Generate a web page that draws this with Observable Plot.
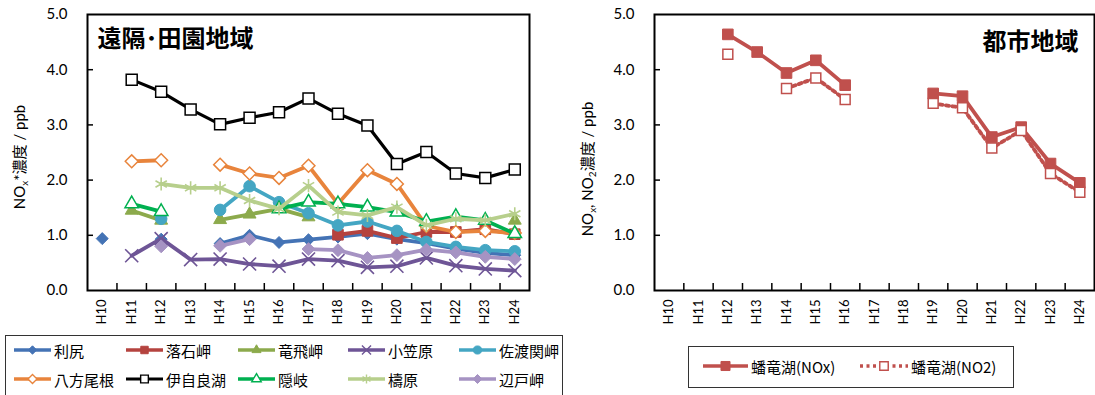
<!DOCTYPE html>
<html><head><meta charset="utf-8">
<script src="https://cdn.jsdelivr.net/npm/d3@7"></script>
<script src="https://cdn.jsdelivr.net/npm/@observablehq/plot@0.6"></script>
<style>
body{margin:0;background:#fff;}
#wrap{position:relative;width:1095px;height:395px;overflow:hidden;background:#fff;font-family:"Noto Sans CJK JP",sans-serif;color:#000;}
#p1,#p2{position:absolute;top:0;}
#p1{left:0;} #p2{left:580px;}
.ylab{position:absolute;white-space:nowrap;font-size:15px;font-family:Lato,"Noto Sans CJK JP",sans-serif;transform:translate(-50%,-50%) rotate(-90deg);line-height:1;}
.ylab sub{font-size:10px;vertical-align:-3px;}
.legbox{position:absolute;border:1px solid #333;box-sizing:border-box;background:#fff;}
.item{position:absolute;display:flex;align-items:center;font-size:15px;white-space:nowrap;line-height:1;}
.item svg{display:block;margin-right:3px;}
</style></head>
<body><div id="wrap">
<div id="p1"></div><div id="p2"></div>
<div class="ylab" style="left:20px;top:157px">NO<sub>x</sub>*濃度 / ppb</div>
<div class="ylab" style="left:588px;top:169px">NO<sub>x</sub>, NO<sub>2</sub>濃度 / ppb</div>
<div class="legbox" id="leg1" style="left:5px;top:335px;width:558px;height:80px"></div>
<div class="legbox" id="leg2" style="left:688px;top:346px;width:326px;height:42px"></div>
</div>
<script>
// ---- data ----
const cats = ["H10","H11","H12","H13","H14","H15","H16","H17","H18","H19","H20","H21","H22","H23","H24"];
const rishiri   = [0.94,null,0.93,null,0.85,1.00,0.87,0.92,0.97,1.03,0.93,0.86,0.76,0.68,0.64];
const ochiishi  = [null,null,null,null,null,null,null,null,1.01,1.08,0.95,1.06,1.06,1.11,1.02];
const tappi     = [null,1.45,1.27,null,1.28,1.38,1.48,1.33,null,null,null,null,null,null,1.27];
const ogasawara = [null,0.63,0.94,0.56,0.57,0.48,0.44,0.57,0.54,0.42,0.44,0.59,0.45,0.39,0.36];
const sado      = [null,null,1.30,null,1.46,1.89,1.60,1.40,1.18,1.25,1.08,0.88,0.79,0.73,0.71];
const happo     = [null,2.34,2.36,null,2.28,2.12,2.04,2.26,1.57,2.18,1.93,1.17,1.06,1.08,1.04];
const ijira     = [null,3.82,3.60,3.28,3.01,3.13,3.23,3.48,3.20,2.99,2.29,2.51,2.12,2.04,2.19];
const oki       = [null,1.57,1.43,null,null,null,1.48,1.60,1.57,1.51,1.42,1.25,1.34,1.27,1.03];
const yusuhara  = [null,null,1.93,1.86,1.86,1.63,1.48,1.90,1.42,1.36,1.51,1.18,1.30,1.27,1.39];
const hedo      = [null,null,0.80,null,0.81,0.93,null,0.75,0.73,0.59,0.64,0.74,0.69,0.61,0.57];
const banryuNOx = [null,null,4.64,4.32,3.94,4.17,3.72,null,null,3.57,3.52,2.78,2.96,2.30,1.95];
const banryuNO2 = [null,null,4.28,null,3.66,3.85,3.46,null,null,3.39,3.31,2.58,2.90,2.12,1.78];
const yTicks = [0,1,2,3,4,5];
const title1 = "遠隔･田園地域";
const title2 = "都市地域";

// ---- styles ----
const leftSeries = [
  {name:"利尻",     vals:rishiri,   color:"#4473B5", symbol:"diamond2", r:5.4, open:false},
  {name:"落石岬",   vals:ochiishi,  color:"#B5433F", symbol:"square",   r:6,   open:false},
  {name:"竜飛岬",   vals:tappi,     color:"#8CAA4C", symbol:"triangle", r:4.8, open:false},
  {name:"小笠原",   vals:ogasawara, color:"#6E5596", symbol:"times",    r:6,   open:true, stroke:true},
  {name:"佐渡関岬", vals:sado,      color:"#44A6C3", symbol:"circle",   r:5.8, open:false},
  {name:"八方尾根", vals:happo,     color:"#E8843C", symbol:"diamond2", r:5.8, open:true},
  {name:"伊自良湖", vals:ijira,     color:"#000000", symbol:"square",   r:6.2, open:true, lw:3.2},
  {name:"隠岐",     vals:oki,       color:"#00B050", symbol:"triangle", r:5,   open:true},
  {name:"檮原",     vals:yusuhara,  color:"#B7CF8C", symbol:"asterisk", r:6.2, open:true, stroke:true},
  {name:"辺戸岬",   vals:hedo,      color:"#A693C3", symbol:"diamond2", r:5.8, open:false}
];
const rightSeries = [
  {name:"蟠竜湖(NOx)", vals:banryuNOx, color:"#C0504D", symbol:"square", r:6,   open:false},
  {name:"蟠竜湖(NO2)", vals:banryuNO2, color:"#C0504D", symbol:"square", r:5.6, open:true, dash:"3,3.5"}
];

const idx = cats.map((_, i) => i);
const bounds = idx.slice(1).map(i => i - 0.5);
const rows = s => s.vals.map((v, i) => ({i, v, s: s.name}));

function seriesMarks(s) {
  const data = rows(s);
  const marks = [
    Plot.line(data, {x:"i", y:"v", stroke:s.color, strokeWidth:s.lw || 3.8, strokeLinejoin:"round",
      strokeDasharray: s.dash || null})
  ];
  if (s.stroke) {
    marks.push(Plot.dot(data, {x:"i", y:"v", symbol:s.symbol, r:s.r, stroke:s.color, strokeWidth:1.6, fill:"none"}));
  } else if (s.open) {
    marks.push(Plot.dot(data, {x:"i", y:"v", symbol:s.symbol, r:s.r, stroke:s.color, strokeWidth:1.5, fill:"white"}));
  } else {
    marks.push(Plot.dot(data, {x:"i", y:"v", symbol:s.symbol, r:s.r, stroke:s.color, strokeWidth:1, fill:s.color}));
  }
  return marks;
}

function makePlot(series, width, mL, mR, title, anchor, tdx, tdy) {
  const plotW = width - mL - mR, plotH = 335 - 14 - 45;
  return Plot.plot({
    width, height: 335, marginLeft: mL, marginRight: mR, marginTop: 14, marginBottom: 45,
    style: {fontFamily: "Lato, 'Noto Sans CJK JP', sans-serif", background: "white", color: "#000", overflow: "visible"},
    x: {domain: [-0.5, 14.5], label: null},
    y: {domain: [0, 5], label: null},
    marks: [
      Plot.axisY({ticks: yTicks, tickFormat: d => d.toFixed(1), tickSize: 0, tickPadding: 20, fontSize: 15, label: null}),
      Plot.axisX({ticks: idx, tickFormat: i => cats[i], tickSize: 0, tickRotate: -90, tickPadding: 9, fontSize: 13, label: null}),
      Plot.tickY([1,2,3,4], {y: d => d, stroke: "black", strokeWidth: 1.5, insetRight: plotW - 6}),
      Plot.tickX(bounds, {x: d => d, stroke: "black", strokeWidth: 1.5, insetTop: plotH - 7}),
      ...series.flatMap(seriesMarks),
      Plot.frame({stroke: "black", strokeWidth: 2}),
      Plot.text([title], {frameAnchor: anchor, textAnchor: anchor === "top-left" ? "start" : "end",
        lineAnchor: "middle", dx: tdx, dy: tdy, fontSize: 24, fontWeight: "bold",
        fontFamily: "'Noto Sans CJK JP', sans-serif", fill: "black"})
    ]
  });
}

document.getElementById("p1").appendChild(makePlot(leftSeries, 580, 87, 51, title1, "top-left", 10, 25));
document.getElementById("p2").appendChild(makePlot(rightSeries, 515, 74, 1, title2, "top-right", -16, 28));

// ---- legends ----
const symMap = {diamond2: d3.symbolDiamond2, square: d3.symbolSquare, triangle: d3.symbolTriangle,
  times: d3.symbolTimes, circle: d3.symbolCircle, asterisk: d3.symbolAsterisk};
function swatch(s, w, scale) {
  const svg = d3.create("svg").attr("width", w).attr("height", 16);
  svg.append("line").attr("x1", 0).attr("x2", w).attr("y1", 8).attr("y2", 8)
    .attr("stroke", s.color).attr("stroke-width", s.lw || 3.5).attr("stroke-dasharray", s.dash || null);
  const r = s.r * scale;
  const p = svg.append("path").attr("transform", `translate(${w/2},8)`)
    .attr("d", d3.symbol(symMap[s.symbol], Math.PI * r * r)());
  if (s.stroke) p.attr("fill", "none").attr("stroke", s.color).attr("stroke-width", 1.4);
  else if (s.open) p.attr("fill", "white").attr("stroke", s.color).attr("stroke-width", 1.4);
  else p.attr("fill", s.color).attr("stroke", s.color);
  return svg.node();
}
const leg1 = document.getElementById("leg1");
const colX = [8, 120, 232, 342, 453];
const rowY = [14, 43];
leftSeries.forEach((s, k) => {
  const d = document.createElement("div");
  d.className = "item";
  d.style.left = colX[k % 5] + "px";
  d.style.top = (rowY[Math.floor(k / 5)] - 8) + "px";
  d.appendChild(swatch(s, 37, 0.7));
  const t = document.createElement("span"); t.textContent = s.name; d.appendChild(t);
  leg1.appendChild(d);
});
const leg2 = document.getElementById("leg2");
const col2 = [14, 171];
rightSeries.forEach((s, k) => {
  const d = document.createElement("div");
  d.className = "item";
  d.style.left = col2[k] + "px";
  d.style.top = (19 - 8) + "px";
  d.appendChild(swatch(s, k === 0 ? 45 : 48, 0.85));
  const t = document.createElement("span"); t.textContent = s.name; d.appendChild(t);
  leg2.appendChild(d);
});
</script>
</body></html>
